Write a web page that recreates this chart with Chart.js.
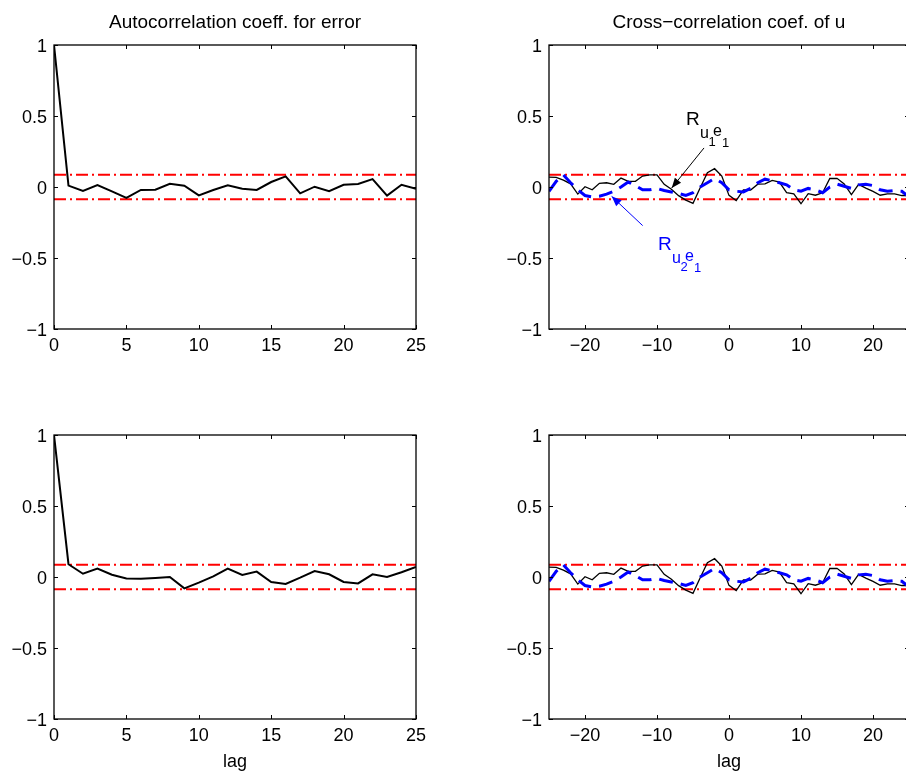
<!DOCTYPE html>
<html>
<head>
<meta charset="utf-8">
<script src="https://cdn.jsdelivr.net/npm/chart.js@4.4.1/dist/chart.umd.min.js"></script>
<style>
html,body{margin:0;padding:0;background:#fff;overflow:hidden;width:906px;height:775px;position:relative;}
canvas{position:absolute;}
</style>
</head>
<body>
<canvas id="c1" width="470" height="385" style="left:0px;top:0px"></canvas>
<canvas id="c2" width="460" height="385" style="left:470px;top:0px"></canvas>
<canvas id="c3" width="470" height="385" style="left:0px;top:390px"></canvas>
<canvas id="c4" width="460" height="385" style="left:470px;top:390px"></canvas>
<script>
// ---------- data ----------
const acfLags = [0,1,2,3,4,5,6,7,8,9,10,11,12,13,14,15,16,17,18,19,20,21,22,23,24,25];
const acfErrorTop = [1,0.01,-0.028,0.014,-0.031,-0.077,-0.021,-0.019,0.023,0.009,-0.059,-0.021,0.012,-0.012,-0.021,0.035,0.075,-0.045,0.002,-0.03,0.016,0.021,0.056,-0.061,0.016,-0.012];
const acfErrorBottom = [1,0.09,0.023,0.059,0.016,-0.01,-0.012,-0.007,0,-0.08,-0.04,0.005,0.059,0.014,0.038,-0.035,-0.049,-0.005,0.042,0.019,-0.035,-0.045,0.019,0,0.033,0.07];
const ccLags = [-25,-24,-23,-22,-21,-20,-19,-18,-17,-16,-15,-14,-13,-12,-11,-10,-9,-8,-7,-6,-5,-4,-3,-2,-1,0,1,2,3,4,5,6,7,8,9,10,11,12,13,14,15,16,17,18,19,20,21,22,23,24,25];
const ccU1E1 = [0.07,0.068,0.048,0.022,-0.05,0.002,-0.02,0.026,0.03,0.019,0.063,0.04,0.04,0.077,0.085,0.085,0.019,-0.016,-0.061,-0.092,-0.115,-0.005,0.1,0.129,0.077,-0.059,-0.096,-0.02,-0.021,0.02,0.022,0.047,0.035,-0.04,-0.048,-0.118,-0.047,-0.058,-0.041,0.06,0.061,0.022,-0.054,0.018,-0.008,-0.031,-0.058,-0.048,-0.048,-0.06,-0.06];
const ccU2E1 = [-0.03,0.04,0.085,0.03,-0.02,-0.06,-0.07,-0.065,-0.05,-0.03,0.0,0.035,0.01,-0.02,-0.02,-0.01,-0.025,-0.035,-0.045,-0.06,-0.04,0.0,0.03,0.06,0.03,-0.02,-0.03,-0.035,-0.01,0.03,0.055,0.045,0.03,0.015,-0.02,-0.03,-0.01,-0.02,-0.04,0.0,0.02,0.005,-0.01,0.015,0.02,0.01,-0.02,-0.03,-0.025,-0.03,-0.07];
const confBound = 0.086;
const yTickValues = [-1,-0.5,0,0.5,1];
const acfXTicks = [0,5,10,15,20,25];
const ccXTicks = [-20,-10,0,10,20];
const titleAcf = 'Autocorrelation coeff. for error';
const titleCc = 'Cross\u2212correlation coef. of u';
const xAxisTitle = 'lag';

// annotation anchors (data units)
const noteU1 = {label:[-5.97,0.44], tail:[-3.47,0.275], head:[-7.96,-0.007], sub:'1', color:'#000000'};
const noteU2 = {label:[-9.86,-0.442], tail:[-11.99,-0.272], head:[-16.3,-0.066], sub:'2', color:'#0000ff'};

// ---------- drawing ----------
const FONT = "'Liberation Sans', Arial, Helvetica, sans-serif";
Chart.defaults.font.family = FONT;

function fmt(v){ return v < 0 ? '\u2212' + Math.abs(v) : String(v); }

function drawArrow(ctx, x0, y0, x1, y1, color){
  ctx.save();
  ctx.strokeStyle = color; ctx.fillStyle = color; ctx.lineWidth = 1;
  ctx.beginPath(); ctx.moveTo(x0, y0); ctx.lineTo(x1, y1); ctx.stroke();
  const ang = Math.atan2(y1 - y0, x1 - x0);
  const L = 10, W = 4;
  ctx.beginPath();
  ctx.moveTo(x1, y1);
  ctx.lineTo(x1 - L*Math.cos(ang) + W*Math.sin(ang), y1 - L*Math.sin(ang) - W*Math.cos(ang));
  ctx.lineTo(x1 - L*Math.cos(ang) - W*Math.sin(ang), y1 - L*Math.sin(ang) + W*Math.cos(ang));
  ctx.closePath(); ctx.fill();
  ctx.restore();
}

function drawLabel(ctx, px, py, sub, color){
  const parts = [
    {t:'R', dx:0, dy:0, s:19},
    {t:'u', dx:14, dy:13, s:16},
    {t:sub, dx:22.5, dy:21, s:13},
    {t:'e', dx:27, dy:11, s:16},
    {t:'1', dx:36, dy:22, s:13}
  ];
  ctx.save();
  ctx.fillStyle = color; ctx.textAlign = 'left'; ctx.textBaseline = 'alphabetic';
  parts.forEach(p => { ctx.font = p.s + 'px ' + FONT; ctx.fillText(p.t, px + p.dx, py + p.dy); });
  ctx.restore();
}

const framePlugin = {
  id: 'frame',
  afterDatasetsDraw(chart, args, opts){
    const {ctx, chartArea:a} = chart;
    const xs = chart.scales.x, ys = chart.scales.y;
    ctx.save();
    ctx.strokeStyle = '#000'; ctx.lineWidth = 1.3;
    ctx.strokeRect(a.left, a.top, a.right - a.left, a.bottom - a.top);
    ctx.lineWidth = 1;
    const TL = 4;
    ctx.beginPath();
    opts.xTicks.forEach(v => {
      const px = Math.round(xs.getPixelForValue(v)) + 0.5;
      ctx.moveTo(px, a.bottom); ctx.lineTo(px, a.bottom - TL);
      ctx.moveTo(px, a.top); ctx.lineTo(px, a.top + TL);
    });
    yTickValues.forEach(v => {
      const py = Math.round(ys.getPixelForValue(v)) + 0.5;
      ctx.moveTo(a.left, py); ctx.lineTo(a.left + TL, py);
      ctx.moveTo(a.right, py); ctx.lineTo(a.right - TL, py);
    });
    ctx.stroke();
    // title
    ctx.fillStyle = '#000';
    ctx.font = '19px ' + FONT;
    ctx.textAlign = 'center'; ctx.textBaseline = 'middle';
    ctx.fillText(opts.title, (a.left + a.right) / 2, a.top - 22);
    // notes
    (opts.notes || []).forEach(n => {
      drawArrow(ctx, xs.getPixelForValue(n.tail[0]), ys.getPixelForValue(n.tail[1]),
                xs.getPixelForValue(n.head[0]), ys.getPixelForValue(n.head[1]), n.color);
      drawLabel(ctx, xs.getPixelForValue(n.label[0]), ys.getPixelForValue(n.label[1]), n.sub, n.color);
    });
    ctx.restore();
  }
};

function makeChart(id, o){
  const datasets = [];
  o.series.forEach(s => datasets.push({
    data: o.lags.map((l, i) => ({x:l, y:s.values[i]})),
    borderColor: s.color, borderWidth: s.width, borderDash: s.dash || [],
    pointRadius: 0, tension: 0, fill: false
  }));
  const x0 = o.lags[0], x1 = o.lags[o.lags.length - 1];
  [confBound, -confBound].forEach(b => datasets.push({
    data: [{x:x0, y:b}, {x:x1, y:b}],
    borderColor: '#ff0000', borderWidth: 2, borderDash: [12,4,2,4],
    pointRadius: 0, fill: false
  }));
  const tickFont = {family: FONT, size: 18};
  new Chart(document.getElementById(id), {
    type: 'line',
    data: {datasets},
    options: {
      responsive: false, animation: false, devicePixelRatio: 1,
      layout: {padding: {left: 0, right: o.padRight, top: 45, bottom: 0}},
      plugins: {
        legend: {display: false}, tooltip: {enabled: false},
        frame: {title: o.title, xTicks: o.xTicks, notes: o.notes}
      },
      scales: {
        x: {
          type: 'linear', min: x0, max: x1,
          afterBuildTicks: s => { s.ticks = o.xTicks.map(v => ({value: v})); },
          afterFit: s => { s.height = 56; },
          grid: {display: false, drawTicks: false}, border: {display: false},
          ticks: {autoSkip: false, maxRotation: 0, padding: 6, color: '#000', font: tickFont, callback: v => fmt(v)},
          title: {display: !!o.xTitle, text: o.xTitle || '', color: '#000', font: tickFont, padding: {top: 0, bottom: 2}}
        },
        y: {
          type: 'linear', min: -1, max: 1,
          afterBuildTicks: s => { s.ticks = yTickValues.map(v => ({value: v})); },
          afterFit: s => { s.width = o.yWidth; },
          grid: {display: false, drawTicks: false}, border: {display: false},
          ticks: {autoSkip: false, padding: 7, labelOffset: 2, color: '#000', font: tickFont, callback: v => fmt(v)}
        }
      }
    },
    plugins: [framePlugin]
  });
}

makeChart('c1', {lags: acfLags, xTicks: acfXTicks, title: titleAcf, yWidth: 54, padRight: 54,
  series: [{values: acfErrorTop, color: '#000000', width: 2}]});
makeChart('c2', {lags: ccLags, xTicks: ccXTicks, title: titleCc, yWidth: 79, padRight: 21,
  series: [{values: ccU2E1, color: '#0000ff', width: 3, dash: [14,8]}, {values: ccU1E1, color: '#000000', width: 1.3}],
  notes: [noteU1, noteU2]});
makeChart('c3', {lags: acfLags, xTicks: acfXTicks, title: '', yWidth: 54, padRight: 54, xTitle: xAxisTitle,
  series: [{values: acfErrorBottom, color: '#000000', width: 2}]});
makeChart('c4', {lags: ccLags, xTicks: ccXTicks, title: '', yWidth: 79, padRight: 21, xTitle: xAxisTitle,
  series: [{values: ccU2E1, color: '#0000ff', width: 3, dash: [14,8]}, {values: ccU1E1, color: '#000000', width: 1.3}]});
</script>
</body>
</html>
